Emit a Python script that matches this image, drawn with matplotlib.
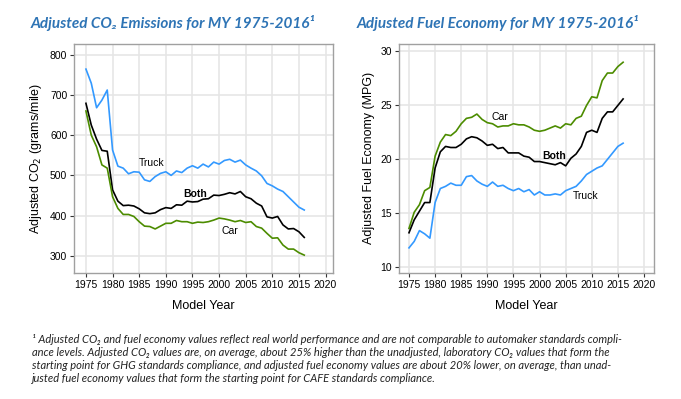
import matplotlib

matplotlib.use("Agg")
import matplotlib.pyplot as plt

years = list(range(1975, 2017))

co2_truck = [764, 729, 668, 687, 712, 563, 523, 518, 504, 509, 508, 489, 485, 497, 505, 509,
             500, 511, 507, 518, 524, 518, 528, 521, 533, 528, 537, 540, 533, 538, 526, 518,
             511, 499, 480, 474, 466, 460, 447, 434, 421, 414]
co2_both = [679, 625, 590, 562, 560, 464, 436, 425, 426, 424, 417, 407, 405, 407, 415, 420,
            418, 427, 426, 436, 434, 435, 441, 442, 451, 450, 453, 457, 454, 460, 447, 442,
            431, 424, 397, 394, 398, 377, 367, 368, 360, 346]
co2_car = [660, 600, 571, 526, 518, 447, 418, 403, 403, 398, 385, 374, 373, 367, 374, 381,
           381, 388, 385, 385, 381, 384, 383, 385, 389, 394, 392, 389, 385, 388, 383, 385,
           373, 369, 356, 344, 345, 327, 317, 317, 308, 302]

mpg_car = [13.6, 15.1, 15.8, 17.1, 17.4, 20.3, 21.6, 22.3, 22.2, 22.6, 23.3, 23.8, 23.9, 24.2,
           23.7, 23.4, 23.3, 23.0, 23.1, 23.1, 23.3, 23.2, 23.2, 23.0, 22.7, 22.6, 22.7, 22.9,
           23.1, 22.9, 23.3, 23.2, 23.8, 24.0, 25.0, 25.8, 25.7, 27.3, 28.0, 28.0, 28.6, 29.0]
mpg_both = [13.2, 14.4, 15.2, 16.0, 16.0, 19.2, 20.7, 21.2, 21.1, 21.1, 21.4, 21.9, 22.1, 22.0,
            21.7, 21.3, 21.4, 21.0, 21.1, 20.6, 20.6, 20.6, 20.3, 20.2, 19.8, 19.8, 19.7, 19.6,
            19.5, 19.7, 19.4, 20.1, 20.5, 21.2, 22.5, 22.7, 22.5, 23.8, 24.4, 24.4, 25.0, 25.6]
mpg_truck = [11.8, 12.4, 13.4, 13.1, 12.7, 16.0, 17.3, 17.5, 17.8, 17.6, 17.6, 18.4, 18.5, 18.0,
             17.7, 17.5, 17.9, 17.5, 17.6, 17.3, 17.1, 17.3, 17.0, 17.2, 16.7, 17.0, 16.7, 16.7,
             16.8, 16.7, 17.1, 17.3, 17.5, 18.0, 18.6, 18.9, 19.2, 19.4, 20.0, 20.6, 21.2, 21.5]

xticks = list(range(1975, 2021, 5))
co2_ticks = [300, 400, 500, 600, 700, 800]
mpg_ticks = [10, 15, 20, 25, 30]

BLUE = "#3399ff"
GREEN = "#4c8c00"
TITLE_BLUE = "#2e74b5"
FRAME = "#a0a0a0"
GRID = "#e6e6e6"

plt.rcParams["font.family"] = ["Liberation Sans", "DejaVu Sans"]

fig = plt.figure(figsize=(6.81, 3.99), dpi=100)
ax1 = fig.add_axes([0.109, 0.316, 0.380, 0.574])
ax2 = fig.add_axes([0.586, 0.316, 0.375, 0.574])


def style(ax):
    ax.set_xticks(xticks)
    ax.grid(True, color=GRID, linewidth=1.2)
    ax.set_axisbelow(True)
    for sp in ax.spines.values():
        sp.set_color(FRAME)
        sp.set_linewidth(1.0)
    ax.tick_params(length=3, width=0.8, color="#333333", labelsize=7.5, pad=2)
    ax.set_xlabel("Model Year", fontsize=9, labelpad=7)


ax1.plot(years, co2_truck, color=BLUE, lw=1.2)
ax1.plot(years, co2_both, color="black", lw=1.2)
ax1.plot(years, co2_car, color=GREEN, lw=1.2)
ax1.set_xlim(1972.8, 2021.4)
ax1.set_ylim(257.8, 826.6)
ax1.set_yticks(co2_ticks)
style(ax1)
ax1.set_ylabel("Adjusted CO$_2$ (grams/mile)", fontsize=9, labelpad=4)
ax1.text(1987.4, 530, "Truck", fontsize=7.5, ha="center", va="center")
ax1.text(1995.5, 453, "Both", fontsize=7.5, ha="center", va="center", fontweight="bold")
ax1.text(2002.0, 363, "Car", fontsize=7.5, ha="center", va="center")

ax2.plot(years, mpg_car, color=GREEN, lw=1.2)
ax2.plot(years, mpg_both, color="black", lw=1.2)
ax2.plot(years, mpg_truck, color=BLUE, lw=1.2)
ax2.set_xlim(1973.1, 2022.0)
ax2.set_ylim(9.48, 30.7)
ax2.set_yticks(mpg_ticks)
style(ax2)
ax2.set_ylabel("Adjusted Fuel Economy (MPG)", fontsize=9, labelpad=4)
ax2.text(1992.4, 23.96, "Car", fontsize=7.5, ha="center", va="center")
ax2.text(2002.8, 20.3, "Both", fontsize=7.5, ha="center", va="center", fontweight="bold")
ax2.text(2008.9, 16.6, "Truck", fontsize=7.5, ha="center", va="center")

title_kw = dict(fontsize=11, fontweight="bold", style="italic", color=TITLE_BLUE,
                family=["Lato", "DejaVu Sans"], ha="center", va="center")
fig.text(173 / 681, 1 - 23 / 399, "Adjusted CO₂ Emissions for MY 1975-2016¹", **title_kw)
fig.text(498 / 681, 1 - 23 / 399, "Adjusted Fuel Economy for MY 1975-2016¹", **title_kw)

foot = ("¹ Adjusted CO₂ and fuel economy values reflect real world performance and are not comparable to automaker standards compli-\n"
        "ance levels. Adjusted CO₂ values are, on average, about 25% higher than the unadjusted, laboratory CO₂ values that form the\n"
        "starting point for GHG standards compliance, and adjusted fuel economy values are about 20% lower, on average, than unad-\n"
        "justed fuel economy values that form the starting point for CAFE standards compliance.")
fig.text(32 / 681, 1 - 334 / 399, foot, fontsize=8.0, style="italic", color="#222222",
         family=["Lato", "DejaVu Sans"], ha="left", va="top", linespacing=1.24)

fig.savefig("out.png", dpi=100)
